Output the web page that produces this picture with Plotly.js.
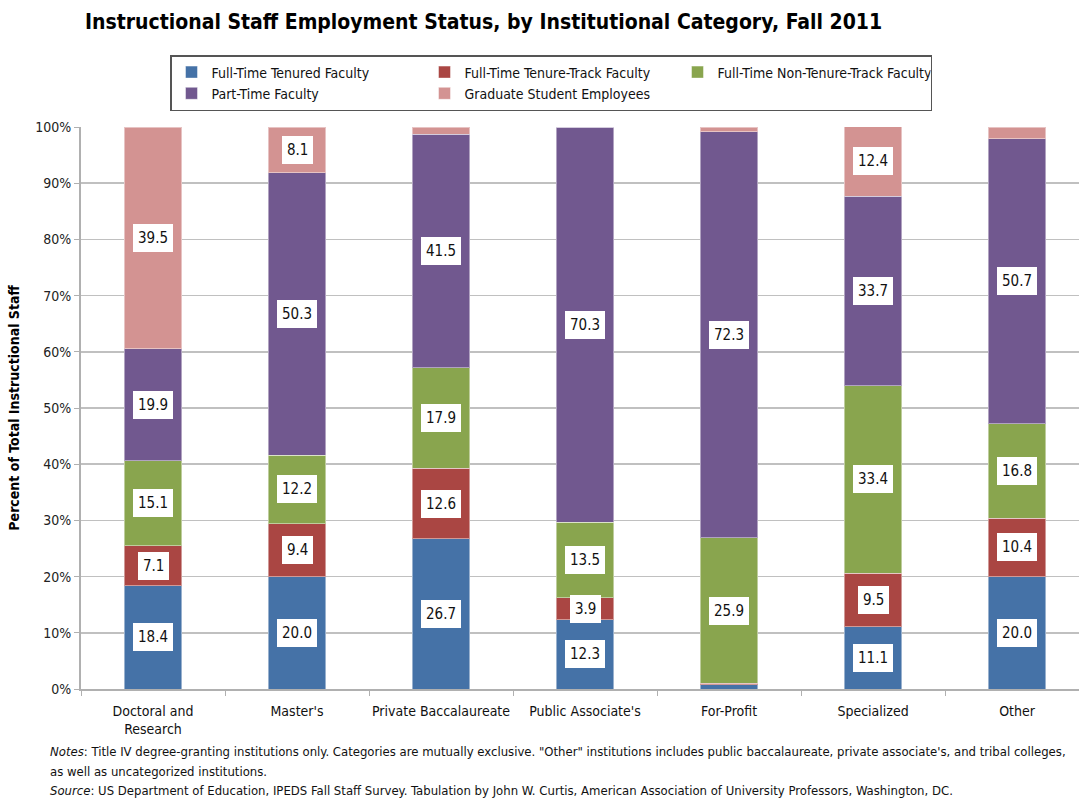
<!DOCTYPE html>
<html>
<head>
<meta charset="utf-8">
<script src="https://cdn.plot.ly/plotly-3.0.1.min.js"></script>
<style>
  html, body { margin: 0; padding: 0; background: #ffffff; overflow: hidden; }
  #chart { width: 1079px; height: 798px; }
</style>
</head>
<body>
<div id="chart"></div>
<script>
const categories = ["Doctoral and<br>Research", "Master's", "Private Baccalaureate", "Public Associate's", "For-Profit", "Specialized", "Other"];

const seriesNames = ["Full-Time Tenured Faculty", "Full-Time Tenure-Track Faculty", "Full-Time Non-Tenure-Track Faculty", "Part-Time Faculty", "Graduate Student Employees"];
const seriesColors = ["#4572A7", "#AA4643", "#89A54E", "#71588F", "#D39392"];

const tenured      = [18.4, 20.0, 26.7, 12.3, 0.8, 11.1, 20.0];
const tenureTrack  = [7.1, 9.4, 12.6, 3.9, 0.2, 9.5, 10.4];
const nonTenure    = [15.1, 12.2, 17.9, 13.5, 25.9, 33.4, 16.8];
const partTime     = [19.9, 50.3, 41.5, 70.3, 72.3, 33.7, 50.7];
const gradStudents = [39.5, 8.1, 1.3, 0.0, 0.8, 12.4, 2.1];

const yTickVals = [0, 10, 20, 30, 40, 50, 60, 70, 80, 90, 100];
const yTickText = ["0%", "10%", "20%", "30%", "40%", "50%", "60%", "70%", "80%", "90%", "100%"];

const seriesValues = [tenured, tenureTrack, nonTenure, partTime, gradStudents];

const FONT = "'DejaVu Sans Condensed', 'Liberation Sans Narrow', 'Open Sans', sans-serif";

const traces = seriesValues.map((vals, i) => ({
  type: "bar",
  name: seriesNames[i],
  x: categories,
  y: vals,
  marker: { color: seriesColors[i], line: { color: "rgba(255,255,255,0.45)", width: 1 } },
  hoverinfo: "skip"
}));

// value labels (white boxes) at the middle of each large enough segment
const annotations = [];
const base = categories.map(() => 0);
seriesValues.forEach((vals) => {
  vals.forEach((v, j) => {
    if (v >= 3) {
      annotations.push({
        x: categories[j], y: base[j] + v / 2, xref: "x", yref: "y",
        text: v.toFixed(1), showarrow: false,
        bgcolor: "#ffffff", borderpad: 5, borderwidth: 0,
        font: { family: FONT, size: 15, color: "#111111" }
      });
    }
    base[j] += v;
  });
});

// footnotes
const notes = [
  { text: "<i>Notes</i>: Title IV degree-granting institutions only. Categories are mutually exclusive. \"Other\" institutions includes public baccalaureate, private associate's, and tribal colleges,", y: 751 },
  { text: "as well as uncategorized institutions.", y: 771 },
  { text: "<i>Source</i>: US Department of Education, IPEDS Fall Staff Survey. Tabulation by John W. Curtis, American Association of University Professors, Washington, DC.", y: 790 }
];
notes.forEach(n => annotations.push({
  xref: "paper", yref: "paper", x: (48 - 81) / 998, y: (689 - n.y) / 562,
  xanchor: "left", yanchor: "middle", showarrow: false, align: "left",
  text: n.text, font: { family: FONT, size: 13, color: "#111111" }
}));

const layout = {
  width: 1079, height: 798,
  margin: { l: 81, r: 0, t: 127, b: 109, pad: 0 },
  paper_bgcolor: "#ffffff", plot_bgcolor: "#ffffff",
  barmode: "stack", bargap: 0.6,
  font: { family: FONT, size: 14, color: "#111111" },
  title: {
    text: "<b>Instructional Staff Employment Status, by Institutional Category, Fall 2011</b>",
    xref: "container", yref: "container", x: 85 / 1079, xanchor: "left",
    y: 1 - 22 / 798, yanchor: "middle",
    font: { family: FONT, size: 21, color: "#000000" }
  },
  xaxis: {
    type: "category", range: [-0.5, 6.43],
    showline: true, linecolor: "#b0b0b0", linewidth: 2,
    ticks: "outside", tickson: "boundaries", ticklen: 5, tickcolor: "#b0b0b0",
    showgrid: false, zeroline: false, tickangle: 0,
    tickfont: { family: FONT, size: 14, color: "#111111" },
    ticklabelstandoff: 8
  },
  yaxis: {
    range: [0, 100], tickvals: yTickVals, ticktext: yTickText,
    showline: true, linecolor: "#b0b0b0", linewidth: 2,
    ticks: "outside", ticklen: 5, tickcolor: "#b0b0b0",
    showgrid: true, gridcolor: "#c0c0c0", gridwidth: 1.5, zeroline: false,
    tickfont: { family: FONT, size: 14, color: "#222222" },
    title: { text: "<b>Percent of Total Instructional Staff</b>", font: { family: FONT, size: 14, color: "#000000" }, standoff: 12 }
  },
  showlegend: true,
  legend: {
    orientation: "h", x: (170 - 81) / 998, xanchor: "left",
    y: (689 - 55) / 562, yanchor: "top",
    bgcolor: "#ffffff", bordercolor: "#555555", borderwidth: 1.5,
    entrywidth: 208, entrywidthmode: "pixels",
    traceorder: "normal", itemwidth: 30,
    font: { family: FONT, size: 14, color: "#111111" }
  },
  annotations: annotations
};

Plotly.newPlot("chart", traces, layout, { displayModeBar: false, staticPlot: true });
</script>
</body>
</html>
